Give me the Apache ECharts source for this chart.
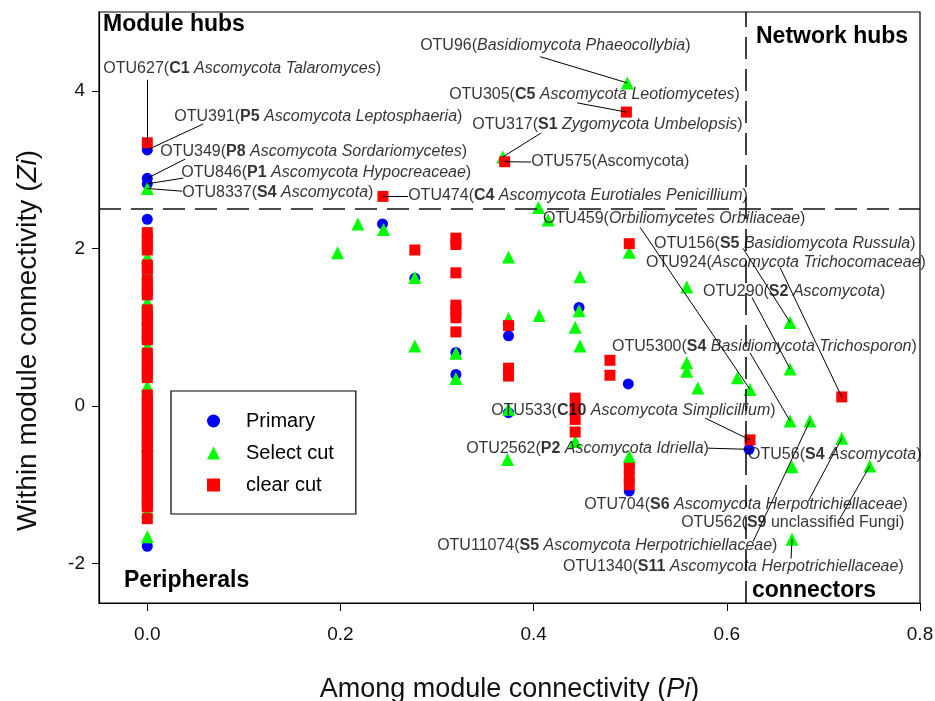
<!DOCTYPE html>
<html>
<head>
<meta charset="utf-8">
<script src="https://cdn.jsdelivr.net/npm/echarts@6/dist/echarts.min.js"></script>
<style>html,body{margin:0;padding:0;background:#fff}#c{width:935px;height:701px}</style>
</head>
<body>
<div id="c"></div>
<script>
// ---------- data ----------
const xTicks = [0, 0.2, 0.4, 0.6, 0.8];
const yTicks = [-2, 0, 2, 4];
const seriesNames = ['Primary', 'Select cut', 'clear cut'];

// Primary (blue circles)
const primaryCol0 = [3.25, 2.89, 2.82, 2.37, 1.69, 1.45, 1.05, 0.55, 0.05, -0.45, -0.95, -1.2, -1.78];
const primaryOther = [[0.2435, 2.31], [0.277, 1.62], [0.3195, 0.68], [0.3195, 0.40], [0.374, 0.89], [0.374, -0.085],
  [0.447, 1.25], [0.498, 0.28], [0.499, -1.08], [0.499, -0.75], [0.623, -0.55]];

// Select cut (green triangles)
const selectCol0 = [2.76, 1.89, 1.69, 1.32, 0.76, 0.25, -0.5, -1.34, -1.66];
const selectOther = [[0.218, 2.31], [0.2446, 2.24], [0.197, 1.945], [0.277, 1.63], [0.277, 0.76], [0.3195, 0.67],
  [0.3195, 0.35], [0.374, 1.89], [0.374, 1.11], [0.374, -0.04], [0.373, -0.68], [0.368, 3.16], [0.497, 4.10],
  [0.405, 2.52], [0.415, 2.36], [0.499, 1.95], [0.448, 1.64], [0.5585, 1.51], [0.447, 1.21], [0.4057, 1.15],
  [0.443, 1.0], [0.448, 0.76], [0.5585, 0.55], [0.5585, 0.44], [0.57, 0.23], [0.611, 0.36], [0.624, 0.21],
  [0.6655, 1.06], [0.6655, 0.47], [0.6655, -0.19], [0.686, -0.19], [0.719, -0.41], [0.6675, -0.77],
  [0.748, -0.76], [0.6675, -1.69], [0.443, -0.45], [0.499, -0.64]];

// clear cut (red squares)
const clearCol0 = [3.34, 2.2, 2.12, 2.04, 1.98, 1.79, 1.74, 1.6, 1.53, 1.46, 1.41, 1.22, 1.16, 1.1, 1.04, 0.98,
  0.92, 0.86, 0.84, 0.67, 0.6, 0.53, 0.46, 0.4, 0.36, 0.14, 0.08, 0.02, -0.04, -0.1, -0.16, -0.22, -0.28, -0.34,
  -0.4, -0.46, -0.52, -0.58, -0.64, -0.7, -0.76, -0.82, -0.88, -0.94, -1.0, -1.06, -1.12, -1.18, -1.24, -1.28, -1.43];
const clearOther = [[0.244, 2.66], [0.37, 3.10], [0.496, 3.73], [0.277, 1.98], [0.3195, 2.13], [0.3195, 2.05],
  [0.3195, 1.69], [0.3195, 1.28], [0.3195, 1.2], [0.3195, 1.12], [0.3195, 0.94], [0.374, 1.02], [0.374, 0.48],
  [0.374, 0.38], [0.499, 2.06], [0.479, 0.58], [0.479, 0.39], [0.443, 0.10], [0.443, -0.03], [0.443, -0.17],
  [0.443, -0.33], [0.499, -0.79], [0.499, -0.9], [0.499, -1.0], [0.624, -0.43], [0.719, 0.115]];

// thresholds
const piThreshold = 0.622;
const ziThreshold = 2.5;

// annotations: text (rich markup), label anchor, leader start, target point
const annotations = [
  {t: '{n|OTU96(}{i|Basidiomycota Phaeocollybia}{n|)}', at: [0.2825, 4.573], from: [0.4067, 4.433], to: [0.497, 4.10]},
  {t: '{n|OTU627(}{b|C1 }{i|Ascomycota Talaromyces}{n|)}', at: [-0.0455, 4.28], from: [0, 4.14], to: [0, 3.34]},
  {t: '{n|OTU305(}{b|C5 }{i|Ascomycota Leotiomycetes}{n|)}', at: [0.3125, 3.949], from: [0.445, 3.847], to: [0.496, 3.73]},
  {t: '{n|OTU391(}{b|P5 }{i|Ascomycota Leptosphaeria}{n|)}', at: [0.0279, 3.669], from: [0.058, 3.58], to: [0, 3.25]},
  {t: '{n|OTU317(}{b|S1 }{i|Zygomycota Umbelopsis}{n|)}', at: [0.3364, 3.567], from: [0.4078, 3.465], to: [0.368, 3.16]},
  {t: '{n|OTU349(}{b|P8 }{i|Ascomycota Sordariomycetes}{n|)}', at: [0.01345, 3.223], from: [0.0393, 3.134], to: [0, 2.89]},
  {t: '{n|OTU575(Ascomycota)}', at: [0.3974, 3.096], from: [0.3974, 3.096], to: [0.37, 3.10]},
  {t: '{n|OTU846(}{b|P1 }{i|Ascomycota Hypocreaceae}{n|)}', at: [0.0352, 2.968], from: [0.0373, 2.892], to: [0, 2.82]},
  {t: '{n|OTU8337(}{b|S4 }{i|Ascomycota}{n|)}', at: [0.0362, 2.713], from: [0.0362, 2.726], to: [0, 2.76]},
  {t: '{n|OTU474(}{b|C4 }{i|Ascomycota Eurotiales Penicillium}{n|)}', at: [0.2701, 2.675], from: [0.2701, 2.66], to: [0.244, 2.66]},
  {t: '{n|OTU459(}{i|Orbiliomycetes Orbiliaceae}{n|)}', at: [0.4098, 2.382], from: [0.5102, 2.268], to: [0.624, 0.21]},
  {t: '{n|OTU156(}{b|S5 }{i|Basidiomycota Russula}{n|)}', at: [0.5247, 2.064], from: [0.6168, 2.0], to: [0.6655, 1.06]},
  {t: '{n|OTU924(}{i|Ascomycota Trichocomaceae}{n|)}', at: [0.5164, 1.822], from: [0.6551, 1.758], to: [0.719, 0.115]},
  {t: '{n|OTU290(}{b|S2 }{i|Ascomycota}{n|)}', at: [0.5754, 1.452], from: [0.6261, 1.376], to: [0.6655, 0.47]},
  {t: '{n|OTU5300(}{b|S4 }{i|Basidiomycota Trichosporon}{n|)}', at: [0.4812, 0.752], from: [0.624, 0.675], to: [0.6655, -0.19]},
  {t: '{n|OTU533(}{b|C10 }{i|Ascomycota Simplicillium}{n|)}', at: [0.356, -0.064], from: [0.5775, -0.153], to: [0.624, -0.43]},
  {t: '{n|OTU2562(}{b|P2 }{i|Ascomycota Idriella}{n|)}', at: [0.3301, -0.535], from: [0.5806, -0.535], to: [0.623, -0.55]},
  {t: '{n|OTU56(}{b|S4 }{i|Ascomycota}{n|)}', at: [0.622, -0.611], from: null, to: null},
  {t: '{n|OTU704(}{b|S6 }{i|Ascomycota Herpotrichiellaceae}{n|)}', at: [0.4523, -1.248], from: [0.6843, -1.21], to: [0.719, -0.41]},
  {t: '{n|OTU562(}{b|S9 }{n|unclassified Fungi)}', at: [0.5527, -1.478], from: [0.7172, -1.427], to: [0.748, -0.76]},
  {t: '{n|OTU11074(}{b|S5 }{i|Ascomycota Herpotrichiellaceae}{n|)}', at: [0.3001, -1.771], from: [0.6272, -1.72], to: [0.686, -0.19]},
  {t: '{n|OTU1340(}{b|S11 }{i|Ascomycota Herpotrichiellaceae}{n|)}', at: [0.4305, -2.038], from: [0.6665, -1.936], to: [0.6675, -1.69]}
];

const regionLabels = [
  {text: 'Module hubs', left: 103, top: 13},
  {text: 'Network hubs', left: 756, top: 25},
  {text: 'Peripherals', left: 124, top: 569},
  {text: 'connectors', left: 752, top: 579}
];

// ---------- chart ----------
const FONT = '"Liberation Sans", Arial, sans-serif';
const col0 = arr => arr.map(v => [0, v]);
const primaryData = col0(primaryCol0).concat(primaryOther);
const selectData = col0(selectCol0).concat(selectOther);
const clearData = col0(clearCol0).concat(clearOther);

const base = {fontSize: 16, fontFamily: FONT, color: '#000', textBorderWidth: 0};
const labelRich = {
  n: Object.assign({}, base),
  b: Object.assign({}, base, {fontWeight: 'bold'}),
  i: Object.assign({}, base, {fontStyle: 'italic'})
};

const chart = echarts.init(document.getElementById('c'), null, {renderer: 'canvas'});
chart.setOption({
  animation: false,
  backgroundColor: '#fff',
  grid: {left: 99, right: 15, top: 12, bottom: 98, show: true, borderColor: '#000', borderWidth: 1.2,
    outerBoundsMode: 'none', containLabel: false},
  xAxis: {
    type: 'value', min: -0.05, max: 0.8,
    name: '{n|Among module connectivity (}{i|Pi}{n|)}',
    nameLocation: 'middle', nameGap: 73,
    nameTextStyle: {rich: {
      n: {fontSize: 27, fontFamily: FONT, color: '#111'},
      i: {fontSize: 27, fontFamily: FONT, color: '#111', fontStyle: 'italic'}}},
    axisLine: {show: true, onZero: false, lineStyle: {color: '#000', width: 1.2}},
    axisTick: {show: true, customValues: xTicks, length: 8, lineStyle: {color: '#000'}},
    axisLabel: {customValues: xTicks, margin: 22, fontSize: 19, fontFamily: FONT, color: '#111',
      formatter: v => v.toFixed(1)},
    splitLine: {show: false}
  },
  yAxis: {
    type: 'value', min: -2.5, max: 5,
    name: '{n|Within module connectivity (}{i|Zi}{n|)}',
    nameLocation: 'middle', nameGap: 57, nameRotate: 90,
    nameTextStyle: {padding: [0, 66, 0, 0], rich: {
      n: {fontSize: 28, fontFamily: FONT, color: '#111'},
      i: {fontSize: 28, fontFamily: FONT, color: '#111', fontStyle: 'italic'}}},
    axisLine: {show: true, onZero: false, lineStyle: {color: '#000', width: 1.2}},
    axisTick: {show: true, customValues: yTicks, length: 7, lineStyle: {color: '#000'}},
    axisLabel: {customValues: yTicks, margin: 14, fontSize: 19, fontFamily: FONT, color: '#111'},
    splitLine: {show: false}
  },
  legend: {
    data: seriesNames,
    orient: 'vertical', left: 171, top: 391,
    itemWidth: 13, itemHeight: 13, itemGap: 12,
    padding: [20, 22, 19, 36],
    borderColor: '#000', borderWidth: 1.2, backgroundColor: '#fff',
    textStyle: {fontSize: 20, fontFamily: FONT, color: '#000', padding: [0, 0, 0, 21]}
  },
  graphic: regionLabels.map(r => ({
    type: 'text', left: r.left, top: r.top, z: 100,
    style: {text: r.text, font: 'bold 23px ' + FONT, fill: '#000'}
  })),
  series: [
    {
      name: 'Primary', type: 'scatter', data: primaryData, symbol: 'circle', symbolSize: 11,
      itemStyle: {color: '#0000ff', opacity: 1}, z: 2,
      markLine: {
        silent: true, symbol: 'none', label: {show: false},
        lineStyle: {color: '#111', width: 1.6, type: [22, 10]},
        data: [{xAxis: piThreshold}, {yAxis: ziThreshold}]
      }
    },
    {name: 'Select cut', type: 'scatter', data: selectData, symbol: 'triangle', symbolSize: 13,
      itemStyle: {color: '#00ff00', opacity: 1}, z: 3},
    {name: 'clear cut', type: 'scatter', data: clearData, symbol: 'rect', symbolSize: 11,
      itemStyle: {color: '#ff0000', opacity: 1}, z: 4},
    {
      name: 'leaders', type: 'scatter', data: [], z: 5, silent: true,
      markLine: {
        silent: true, symbol: 'none', label: {show: false},
        lineStyle: {color: '#000', width: 1, type: 'solid'},
        data: annotations.filter(a => a.from).map(a => [{coord: a.from}, {coord: a.to}])
      }
    },
    {
      name: 'labels', type: 'scatter', symbolSize: 0, z: 6, silent: true,
      data: annotations.map(a => ({value: a.at, name: a.t})),
      label: {show: true, position: 'right', distance: 0, color: '#000', textBorderWidth: 0,
        formatter: p => p.name, rich: labelRich}
    }
  ]
});
</script>
</body>
</html>
